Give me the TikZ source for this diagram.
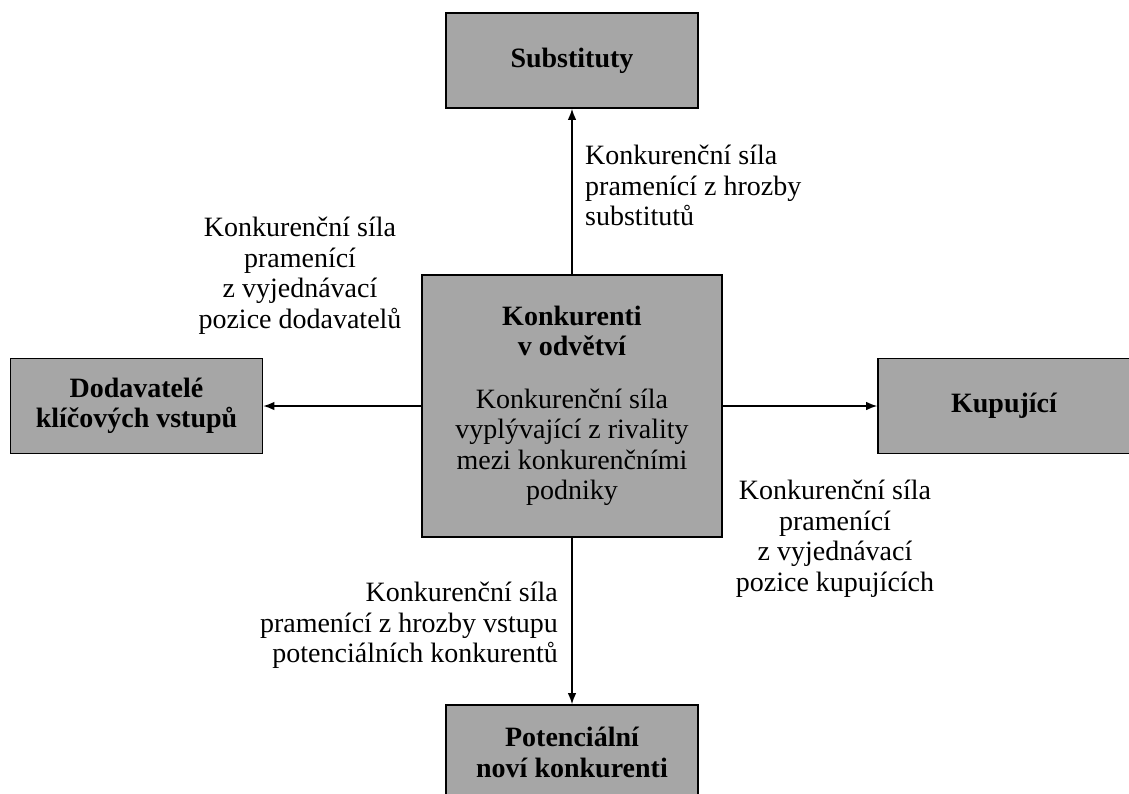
\documentclass[tikz,border=0pt]{standalone}
\usepackage{fontspec}
\setmainfont{Liberation Serif}
\usetikzlibrary{arrows.meta}
\begin{document}
\begin{tikzpicture}[x=1pt,y=-1pt,
  txt/.style={font=\fontsize{28}{30.5}\selectfont},
  force/.style={draw=black, line width=1.6pt, fill=black!35, inner sep=0pt,
    align=center, minimum width=252pt, minimum height=95pt,
    font=\fontsize{28}{30.5}\selectfont\bfseries},
  flow/.style={line width=1.4pt, -{Latex[length=11pt,width=8.5pt]}},
  note/.style={txt, inner sep=0pt}]
\clip (0,0) rectangle (1129,793);

% the five forces
\node[force] (sub) at (572,60.5) {Substituty};
\node[force] (dod) at (136.5,406) {Dodavatelé\\klíčových vstupů};
\node[force] (kup) at (1004,406) {Kupující};
\node[force] (pot) at (572,752.5) {Potenciální\\noví konkurenti};
\node[force, minimum width=300pt, minimum height=262pt,
      font=\fontsize{28}{30.5}\selectfont] (rival) at (572,406)
  {\textbf{Konkurenti}\\\textbf{v odvětví}\\[22pt]Konkurenční síla\\vyplývající z rivality\\mezi konkurenčními\\podniky};

% connectors
\draw[flow] (rival.north) -- (sub.south);
\draw[flow] (rival.west) -- (dod.east);
\draw[flow] (rival.east) -- (kup.west);
\draw[flow] (rival.south) -- (pot.north);

% descriptions of each force
\node[note, anchor=north west, align=left] (tsub) at (585,145)
  {Konkurenční síla\\pramenící z hrozby\\substitutů};
\node[note, anchor=north, align=center] (tdod) at (300,217)
  {Konkurenční síla\\pramenící\\z vyjednávací\\pozice dodavatelů};
\node[note, anchor=north, align=center] (tkup) at (835,480)
  {Konkurenční síla\\pramenící\\z vyjednávací\\pozice kupujících};
\node[note, anchor=north east, align=right] (tpot) at (558,582)
  {Konkurenční síla\\pramenící z hrozby vstupu\\potenciálních konkurentů};
\end{tikzpicture}
\end{document}
